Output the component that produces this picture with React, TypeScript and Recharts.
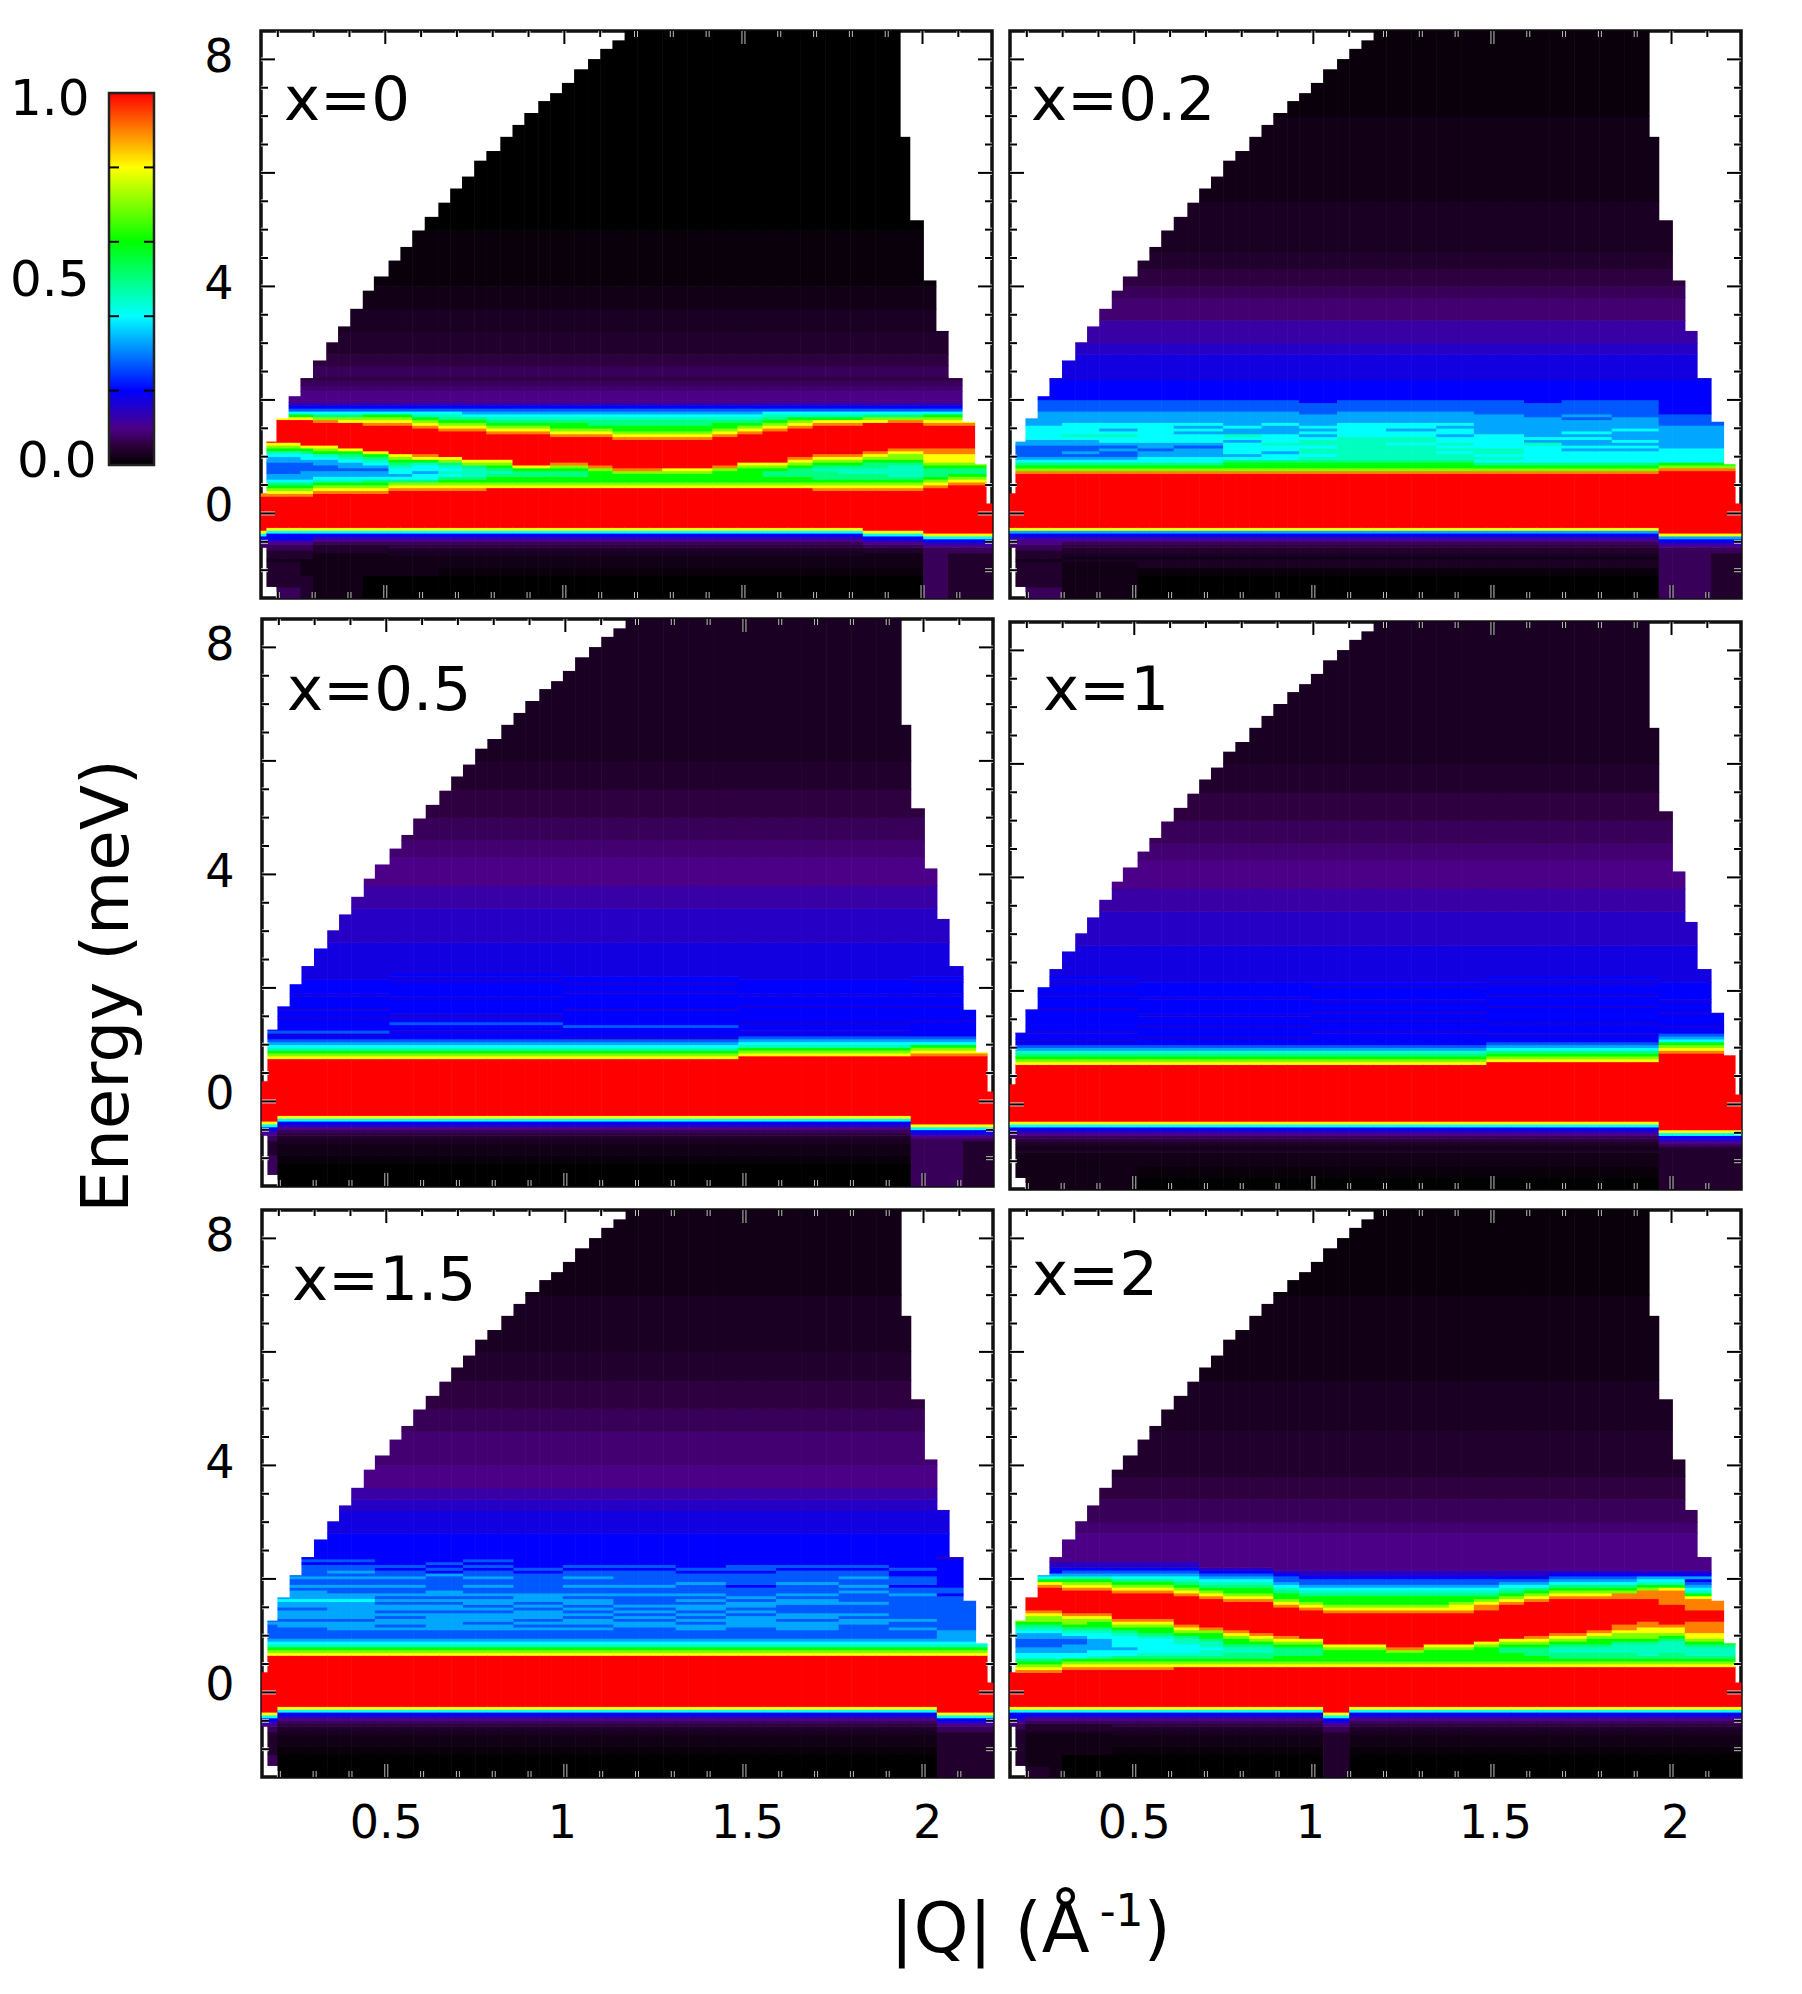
import { ReferenceArea, Scatter, ScatterChart, XAxis, YAxis } from "recharts";

const FONT = "'DejaVu Sans', Verdana, sans-serif";

// Q bin edges, upper and lower limit of the measured range per Q bin
const qEdges = [
  0.153, 0.169, 0.197, 0.231, 0.264, 0.299, 0.336, 0.369, 0.403, 0.438, 0.469, 0.51, 0.543, 0.576, 0.611, 0.649,
  0.682, 0.715, 0.749, 0.783, 0.822, 0.856, 0.889, 0.928, 0.961, 0.994, 1.028, 1.067, 1.101, 1.135, 1.169, 1.204,
  1.239, 1.274, 1.309, 1.344, 1.379, 1.414, 1.449, 1.484, 1.519, 1.554, 1.589, 1.624, 1.659, 1.694, 1.729, 1.764,
  1.799, 1.834, 1.869, 1.904, 1.938, 1.965, 2.003, 2.038, 2.072, 2.111, 2.146, 2.178, 2.194,
];
const topLimit = [
  0.35, 1.26, 1.67, 2.06, 2.38, 2.69, 3.01, 3.29, 3.6, 3.92, 4.17, 4.45, 4.69, 4.98, 5.22, 5.47, 5.72, 5.93, 6.21,
  6.38, 6.63, 6.84, 7.05, 7.26, 7.4, 7.58, 7.82, 8, 8.18, 8.33, 8.5, 8.5, 8.5, 8.5, 8.5, 8.5, 8.5, 8.5, 8.5, 8.5, 8.5,
  8.5, 8.5, 8.5, 8.5, 8.5, 8.5, 8.5, 8.5, 8.5, 8.5, 8.5, 6.63, 5.16, 4.1, 3.21, 2.38, 1.61, 0.86, 0.17,
];
const bottomLimit = [-0.6, -1.29];

// energy bin edges: 5 tail bins, 16 + 40 + 8 fine bins, 15 upper bins
const energyEdges = [
  -1.6, -1.3, -1.1, -0.95, -0.85, -0.8, -0.75, -0.7, -0.65, -0.6, -0.55, -0.5, -0.45, -0.4, -0.35, -0.3, -0.25, -0.2,
  -0.15, -0.1, -0.05, 0, 0.05, 0.1, 0.15, 0.2, 0.25, 0.3, 0.35, 0.4, 0.45, 0.5, 0.55, 0.6, 0.65, 0.7, 0.75, 0.8, 0.85,
  0.9, 0.95, 1, 1.05, 1.1, 1.15, 1.2, 1.25, 1.3, 1.35, 1.4, 1.45, 1.5, 1.55, 1.6, 1.65, 1.7, 1.75, 1.8, 1.85, 1.9, 1.95,
  2, 2.05, 2.1, 2.15, 2.2, 2.25, 2.3, 2.35, 2.4, 2.6, 2.8, 3, 3.2, 3.4, 3.6, 3.8, 4, 4.3, 4.6, 5, 5.5, 6, 7, 8.6,
];

// one character per energy bin, indexes intensityLevels
const levelKeys = "0123456789abcdefghijklm";
const intensityLevels = [
  0, 0.02, 0.04, 0.07, 0.1, 0.15, 0.2, 0.27, 0.33, 0.4, 0.45, 0.5, 0.6, 0.7, 0.8, 0.9, 1, 0.01, 0.03, 0.055, 0.085, 0.125,
  0.175,
];

const colorPositions = [0, 0.05, 0.1, 0.2, 0.4, 0.6, 0.8, 1];
const colorValues = ["#000000", "#2b0038", "#4c0088", "#0000ff", "#00ffff", "#00ff00", "#ffff00", "#ff0000"];

const x0Low = "00h11 1ii2j34569eggggg";
const x0Up = "444kk33j 3j22ii11hhh0000";
const x0Breaks = [
  0.169, 0.25, 0.3, 0.37, 0.44, 0.5, 0.57, 0.65, 0.72, 0.8, 0.87, 0.95, 1.05, 1.15, 1.27, 1.4, 1.47, 1.55, 1.62, 1.7,
  1.77, 1.85, 1.92, 2.0, 2.08, 2.2,
];
const x0Profiles = [
  `63222 222334569egggggg ggggggfedc b988777788 9acdeggggg gggec97654 ${x0Up}`,
  `32221 2223345669eggggg ggggggfedc b988777788 9acdeggggg gggec97654 ${x0Up}`,
  `22111 2223345669eggggg ggggggfedc b988877789 9bcegggggg gggec97654 ${x0Up}`,
  `11111 1122234569eggggg gggggggfed ca98877889 acdegggggg ggfdb97654 ${x0Up}`,
  `11111 1122234569eggggg gggggggfed ca9887889a bceggggggg ggedb97654 ${x0Up}`,
  `00111 1122234569eggggg gggggggfed cb988789ab cegggggggg gfedc97654 ${x0Up}`,
  `00111 1ii2j34569eggggg ggggggggfe db98 99abcd eggggggggg gfedc97654 ${x0Up}`,
  `00111 1ii2j34569eggggg ggggggggfe db99899ace fggggggggg fedca97654 ${x0Up}`,
  `${x0Low} ggggggggfe dcb9a9abde gggggggggf edcba97654 ${x0Up}`,
  `${x0Low} ggggggggfe dcbaaabdeg gggggggggf edcb987654 ${x0Up}`,
  `${x0Low} ggggggggge dccbabcdeg ggggggggfe dcba987654 ${x0Up}`,
  `${x0Low} ggggggggge dccbbceggg ggggggggfe dcba987654 ${x0Up}`,
  `${x0Low} ggggggggge dccbbcdfgg gggggggfed ccba987654 ${x0Up}`,
  `${x0Low} ggggggggge dccccdfggg gggggggfed cbba987654 ${x0Up}`,
  `${x0Low} ggggggggge dcccdfgggg ggggggfedc cbba987654 ${x0Up}`,
  `${x0Low} ggggggggge dcccdegggg ggggggfedc cbba987654 ${x0Up}`,
  `${x0Low} ggggggggge dccccdfggg gggggggfed ccba987654 ${x0Up}`,
  `${x0Low} ggggggggge dcccccdegg ggggggggfe dcba987654 ${x0Up}`,
  `${x0Low} ggggggggge dccbbcdegg gggggggggf edcba97654 ${x0Up}`,
  `${x0Low} ggggggggge dccbbbcdef gggggggggg fedca97654 ${x0Up}`,
  `${x0Low} ggggggggfe dcbbbabcde fggggggggg gfeca97654 ${x0Up}`,
  `${x0Low} ggggggggfe dcbbaabcde fggggggggg gfeca97654 ${x0Up}`,
  `00h11 112234569egggggg ggggggggfe dcbbaabbcd efgggggggg ggedb97654 ${x0Up}`,
  `00h11 112234569egggggg ggggggggfe dcbaaaabcd defggggggg ggfdb97654 ${x0Up}`,
  `33333 33334569eggggggg gggggggggf edcbbbcdee effggggggg gfedc97654 ${x0Up}`,
  `22222 22334569eggggggg gggggggggg fedcbbcdee effggggggg gfedc97654 ${x0Up}`,
];

const x02Up = "6666666m mm5llkk3j2ii11h";
const x02Low = "00hii 1i22j34568eggggg gggggggggg";
const x02Breaks = [0.3, 0.4, 0.5, 0.62, 0.75, 0.85, 0.95, 1.08, 1.2, 1.33, 1.45, 1.58, 1.7, 1.83, 1.98, 2.1, 2.2];
const x02Profiles = [
  `32221 2223344568eggggg gggggggggg ggggfdcb98 7777889999 9888887777 ${x02Up}`,
  `1111i 1i22j34568eggggg gggggggggg ggggfdcb98 7877889a99 9988887777 ${x02Up}`,
  `1111i 1i22j34568eggggg gggggggggg ggggfdcb98 7787899a98 9988887777 ${x02Up}`,
  `${x02Low} ggggfdcb99 8878899999 9988887777 ${x02Up}`,
  `${x02Low} ggggfdcb99 8887899989 8988887777 ${x02Up}`,
  `${x02Low} ggggfdccb9 8999989a88 9888887777 ${x02Up}`,
  `${x02Low} ggggfdccb9 9899a99988 8988887777 ${x02Up}`,
  `${x02Low} ggggfdccba 9aa9aa9898 9888877776 ${x02Up}`,
  `${x02Low} ggggfdccba aaaaaaa999 9988887777 ${x02Up}`,
  `${x02Low} ggggfdccba aaaa9aa998 9988887777 ${x02Up}`,
  `${x02Low} ggggfdccba a9a9a99899 8988887777 ${x02Up}`,
  `${x02Low} ggggfdcb9a 9aa9999988 8888877777 ${x02Up}`,
  `${x02Low} ggggfdcb99 9999a89888 8888777776 ${x02Up}`,
  `${x02Low} ggggfdcb99 9989889898 8887877777 ${x02Up}`,
  `${x02Low} ggggfdcb99 9989898889 8888777777 ${x02Up}`,
  `33333 33334568eggggggg gggggggggg gggggfdc99 9998888888 8777766666 ${x02Up}`,
  `22222 22334568eggggggg gggggggggg gggggfdc99 9998888888 8777766666 ${x02Up}`,
];

const x05Up = "mm555ll44k3j2ii";
const x05Low = "00h11 1ii2j34569eggggg gggggggggg";
const x05Breaks = [0.2, 0.5, 1, 1.5, 1.98, 2.1, 2.2];
const x05Profiles = [
  `43322 2233 4569eggggggg gggggggggg gggggedca9 876m76666m 66m6666m66 666mmmmm ${x05Up}`,
  `${x05Low} gggggedca9 876m76666m 66m6666m66 666mmmmm ${x05Up}`,
  `${x05Low} gggggedca9 8766m6676m m66666m666 66mm6mmm ${x05Up}`,
  `${x05Low} gggggedca9 87m6667666 66m66666m6 6m66mmmm ${x05Up}`,
  `${x05Low} ggggggedca 9876m66m66 666m666m66 666mmmmm ${x05Up}`,
  `33333 3334569egggggggg gggggggggg ggggggfedc 98766666m6 666m666m66 66m6mmmm ${x05Up}`,
  `22222 2234569egggggggg gggggggggg ggggggfedc 98766666m6 666m666m66 66m6mmmm ${x05Up}`,
];

const x1Up = "mm555ll44k3j2ii";
const x1Low = "0h112 1i2j34569egggggg gggggggggg";
const x1Breaks = [0.5, 1, 1.5, 1.98, 2.2];
const x1Profiles = [
  `11112 1i2j34569egggggg gggggggggg ggggedcba8 76m66m6666 666m6666m6 66mm6mmm ${x1Up}`,
  `${x1Low} ggggedcba8 766m666m66 6m66666m66 666mmmmm ${x1Up}`,
  `${x1Low} ggggedcba8 76666m666m 66m666m666 6m6mmmmm ${x1Up}`,
  `${x1Low} gggggedcb9 8766m666m6 6666m666m6 66mm6mmm ${x1Up}`,
  `22222 234569eggggggggg gggggggggg ggggggggfe dc98766m66 66m666m666 666mmmmm ${x1Up}`,
];

const x15Up = "66mm5l44kk3j2i1";
const x15Low = "00h11 1ii2j34569eggggg gggggggggg gggedca987";
const x15Breaks = [0.2, 0.33, 0.46, 0.6, 0.73, 0.86, 1, 1.15, 1.3, 1.45, 1.6, 1.75, 1.9, 2.05, 2.2];
const x15Profiles = [
  `33222 22334569eggggggg gggggggggg gggedca987 7777878888 8989887877 87776766 ${x15Up}`,
  `${x15Low} 7778878887 8898887877 87777676 ${x15Up}`,
  `${x15Low} 7788878888 8898877877 87877676 ${x15Up}`,
  `${x15Low} 7787887878 8787877877 87767666 ${x15Up}`,
  `${x15Low} 7788888878 8787887777 78676766 ${x15Up}`,
  `${x15Low} 7788788878 7887877877 87767676 ${x15Up}`,
  `${x15Low} 7787878887 8788877777 77676666 ${x15Up}`,
  `${x15Low} 7787887878 7887877877 87767666 ${x15Up}`,
  `${x15Low} 7778878787 8777877877 77767666 ${x15Up}`,
  `${x15Low} 7788787878 8787877787 77676666 ${x15Up}`,
  `${x15Low} 7778888787 8878777677 77677666 ${x15Up}`,
  `${x15Low} 7788878877 7887877787 77767666 ${x15Up}`,
  `${x15Low} 7777887877 7877787877 87767666 ${x15Up}`,
  `${x15Low} 7787787777 7777877677 76676666 ${x15Up}`,
  `22222 22334569eggggggg gggggggggg gggedca988 8877777777 7777677666 66666665 ${x15Up}`,
];

const x2Low = "00h11 1ii2j34569eggggg";
const x2Up = "44k33jj222ii11h";
const x2Breaks = [
  0.2, 0.25, 0.3, 0.37, 0.45, 0.52, 0.6, 0.67, 0.75, 0.82, 0.9, 0.97, 1.03, 1.1, 1.2, 1.3, 1.37, 1.45, 1.52, 1.6, 1.67,
  1.75, 1.82, 1.9, 1.97, 2.05, 2.12, 2.2,
];
const x2Profiles = [
  `32222 2223345669eggggg gggggggfed cb99887778 89abcddefg gggggggfec 98665544 ${x2Up}`,
  `21111 1122234569eggggg gggggggfed cb99887778 89abcddefg gggggggfec 98665544 ${x2Up}`,
  `11111 1122234569eggggg gggggggfed cb99887778 89abcddefg gggggggfec 98665544 ${x2Up}`,
  `00111 1122234569eggggg ggggggggfe dc99888778 9abcddefgg ggggggfedc a8765544 ${x2Up}`,
  `00111 1122234569eggggg ggggggggfe dca9988889 9abccdefgg ggggggfedc a8765544 ${x2Up}`,
  `${x2Low} ggggggggfe dcb9989999 abcdefgggg gggggfedcb 98765544 ${x2Up}`,
  `${x2Low} ggggggggfe dcba99999a bccdefgggg gggggfedcb 98765544 ${x2Up}`,
  `${x2Low} ggggggggge dcba999aab cdefgggggg ggggfedcba 98765544 ${x2Up}`,
  `${x2Low} ggggggggge dcbaa9aabc cdfggggggg gggfedcba9 87654444 ${x2Up}`,
  `${x2Low} ggggggggge dcbbaabccd efgggggggg ggfedccba9 87654444 ${x2Up}`,
  `${x2Low} ggggggggge dcbbaabcde fggggggggg ggfedccba9 87654444 ${x2Up}`,
  `${x2Low} ggggggggge dccbbbcdef gggggggggg fedccba987 76544444 ${x2Up}`,
  `${x2Low} ggggggggge dccbbbcdeg gggggggggf edccba9877 65544444 ${x2Up}`,
  `22222 22334569eggggggg ggggggggge dccccdeggg ggggggggfe dcccba9877 65544444 ${x2Up}`,
  `${x2Low} ggggggggge dccccdeggg ggggggggfe dcccba9877 65544444 ${x2Up}`,
  `${x2Low} ggggggggge dcccdfgggg ggggggggfe dcccba9877 65544444 ${x2Up}`,
  `${x2Low} ggggggggge dccccdeggg ggggggggfe dcccba9877 65544444 ${x2Up}`,
  `${x2Low} ggggggggge dccccdeggg ggggggggfe edccba9877 65544444 ${x2Up}`,
  `${x2Low} ggggggggge dcccccdegg gggggggggf fedcba9877 65544444 ${x2Up}`,
  `${x2Low} ggggggggge dcccbbcdeg gggggggggg gfedcba987 65544444 ${x2Up}`,
  `${x2Low} ggggggggge dccbbbcdef gggggggggg ggfedcb987 65544444 ${x2Up}`,
  `${x2Low} ggggggggge dcbbaabcde fggggggggg gggfedcb98 76544444 ${x2Up}`,
  `${x2Low} ggggggggge dcbbaabccd efgggggggg gggfedcb98 76544444 ${x2Up}`,
  `${x2Low} ggggggggge dcbbaaabcd deffgggggg gggffdcb98 76544444 ${x2Up}`,
  `${x2Low} ggggggggge dcbaaaabcd deeffggggg gggfffdca9 86544444 ${x2Up}`,
  `${x2Low} ggggggggge dcbbaaaabc deefgggggg gfffffeca9 86544444 ${x2Up}`,
  `${x2Low} ggggggggge dcbaaabcde effffggggf fffeca9876 86544444 ${x2Up}`,
  `${x2Low} ggggggggge dcbaaabcde effffggggf fffeca9876 86544444 ${x2Up}`,
];

const qTicks = [0.2, 0.3, 0.4, 0.5, 0.6, 0.7, 0.8, 0.9, 1, 1.1, 1.2, 1.3, 1.4, 1.5, 1.6, 1.7, 1.8, 1.9, 2, 2.1];
const qMajor = [0.5, 1, 1.5, 2];
const qLabelShift = [0, -3, 3, 4];
const eTicks = [-1, -0.5, 0, 0.5, 1, 1.5, 2, 2.5, 3, 3.5, 4, 4.5, 5, 5.5, 6, 6.5, 7, 7.5, 8];
const eMajor = [0, 4, 8];
const eLabelShift = [-8, -3, -3];
const eLong = [0, 2, 4, 6, 8];

const Q_DOMAIN = [0.153, 2.194];
const E_DOMAIN = [-1.49, 8.5];
const PLOT_W = 731;
const PLOT_H = 567;
const PX_Q = PLOT_W / (Q_DOMAIN[1] - Q_DOMAIN[0]);
const PX_E = PLOT_H / (E_DOMAIN[1] - E_DOMAIN[0]);
const M_LEFT = 80;
const M_TOP = 6;
const M_BOTTOM = 80;

const panels = [
  { name: "x=0", left: 261, top: 31, breaks: x0Breaks, profiles: x0Profiles, lx: 284, ly: 98, qLabels: false, eLabels: true },
  { name: "x=0.2", left: 1010, top: 31, breaks: x02Breaks, profiles: x02Profiles, lx: 1031, ly: 98, qLabels: false, eLabels: false },
  { name: "x=0.5", left: 262, top: 619, breaks: x05Breaks, profiles: x05Profiles, lx: 287, ly: 688, qLabels: false, eLabels: true },
  { name: "x=1", left: 1010, top: 622, breaks: x1Breaks, profiles: x1Profiles, lx: 1043, ly: 688, qLabels: false, eLabels: false },
  { name: "x=1.5", left: 262, top: 1210, breaks: x15Breaks, profiles: x15Profiles, lx: 292, ly: 1278, qLabels: true, eLabels: true },
  { name: "x=2", left: 1010, top: 1210, breaks: x2Breaks, profiles: x2Profiles, lx: 1032, ly: 1273, qLabels: true, eLabels: false },
];

function colorOf(v: number) {
  let i = 0;
  while (i < colorPositions.length - 2 && v > colorPositions[i + 1]) i++;
  const t = (v - colorPositions[i]) / (colorPositions[i + 1] - colorPositions[i]);
  const a = colorValues[i];
  const b = colorValues[i + 1];
  const mix = (p: number) => {
    const ca = parseInt(a.slice(p, p + 2), 16);
    const cb = parseInt(b.slice(p, p + 2), 16);
    return Math.round(ca + (cb - ca) * t);
  };
  return `rgb(${mix(1)},${mix(3)},${mix(5)})`;
}

function buildCells(breaks: number[], profiles: string[]) {
  const cells: { q: number; e: number; dQ: number; dE: number; value: number }[] = [];
  for (let c = 0; c < qEdges.length - 1; c++) {
    const q = (qEdges[c] + qEdges[c + 1]) / 2;
    const idx = breaks.findIndex((b) => q <= b);
    const rows = profiles[idx < 0 ? profiles.length - 1 : idx].replace(/ /g, "");
    const top = topLimit[c];
    const bottom = Math.max(bottomLimit[c] ?? E_DOMAIN[0], E_DOMAIN[0]);
    let start: number | null = null;
    let key = "";
    const flush = (end: number) => {
      if (start !== null && end > start) {
        cells.push({
          q,
          e: (start + end) / 2,
          dQ: qEdges[c + 1] - qEdges[c],
          dE: end - start,
          value: intensityLevels[levelKeys.indexOf(key)],
        });
      }
    };
    for (let r = 0; r < energyEdges.length - 1; r++) {
      const lo = Math.max(energyEdges[r], bottom);
      const hi = Math.min(energyEdges[r + 1], top);
      if (hi <= lo) continue;
      const k = rows[r] ?? "0";
      if (k !== key) {
        flush(lo);
        start = lo;
        key = k;
      }
      if (hi >= top) {
        flush(hi);
        start = null;
        key = "";
      }
    }
  }
  return cells;
}

function HeatCell(props: any) {
  const { cx, cy, payload } = props;
  const w = payload.dQ * PX_Q + 0.6;
  const h = payload.dE * PX_E + 0.6;
  return <rect x={cx - w / 2} y={cy - h / 2} width={w} height={h} fill={colorOf(payload.value)} />;
}

function TickMark({ x1, y1, x2, y2 }: { x1: number; y1: number; x2: number; y2: number }) {
  return (
    <>
      <line x1={x1} y1={y1} x2={x2} y2={y2} stroke="#fff" strokeWidth={4} opacity={0.75} />
      <line x1={x1} y1={y1} x2={x2} y2={y2} stroke="#000" strokeWidth={2} />
    </>
  );
}

function QTick(props: any, showLabel: boolean, plotTop: number, plotBottom: number) {
  const { x, payload } = props;
  const m = qMajor.indexOf(payload.value);
  const major = m >= 0;
  const len = major ? 13 : 6;
  return (
    <g>
      <TickMark x1={x} y1={plotBottom} x2={x} y2={plotBottom - len} />
      <TickMark x1={x} y1={plotTop} x2={x} y2={plotTop + len} />
      {showLabel && major && (
        <text x={x + qLabelShift[m]} y={plotBottom + 45} textAnchor="middle" dominantBaseline="central" fontSize={46} fontFamily={FONT} fill="#000">
          {payload.value}
        </text>
      )}
    </g>
  );
}

function ETick(props: any, showLabel: boolean, plotLeft: number, plotRight: number) {
  const { y, payload } = props;
  const long = eLong.includes(payload.value);
  const len = long ? 14 : 7;
  const m = eMajor.indexOf(payload.value);
  return (
    <g>
      <TickMark x1={plotLeft} y1={y} x2={plotLeft + len} y2={y} />
      <TickMark x1={plotRight} y1={y} x2={plotRight - len} y2={y} />
      {showLabel && m >= 0 && (
        <text x={plotLeft - 42} y={y + eLabelShift[m]} textAnchor="middle" dominantBaseline="central" fontSize={46} fontFamily={FONT} fill="#000">
          {payload.value}
        </text>
      )}
    </g>
  );
}

function Panel({ panel }: { panel: (typeof panels)[number] }) {
  const cells = buildCells(panel.breaks, panel.profiles);
  const plotTop = M_TOP;
  const plotBottom = M_TOP + PLOT_H;
  const plotLeft = M_LEFT;
  const plotRight = M_LEFT + PLOT_W;
  return (
    <div style={{ position: "absolute", left: panel.left - M_LEFT, top: panel.top - M_TOP }}>
      <ScatterChart
        width={M_LEFT + PLOT_W + 8}
        height={M_TOP + PLOT_H + M_BOTTOM}
        margin={{ left: M_LEFT - 1, right: 8, top: M_TOP, bottom: M_BOTTOM - 1 }}
      >
        <Scatter data={cells} dataKey="e" shape={HeatCell} isAnimationActive={false} />
        <XAxis
          type="number"
          dataKey="q"
          domain={Q_DOMAIN}
          ticks={qTicks}
          interval={0}
          height={1}
          axisLine={false}
          tickLine={false}
          tickSize={0}
          tick={(p: any) => QTick(p, panel.qLabels, plotTop, plotBottom)}
        />
        <YAxis
          type="number"
          dataKey="e"
          domain={E_DOMAIN}
          ticks={eTicks}
          interval={0}
          width={1}
          axisLine={false}
          tickLine={false}
          tickSize={0}
          tick={(p: any) => ETick(p, panel.eLabels, plotLeft, plotRight)}
        />
        <ReferenceArea x1={Q_DOMAIN[0]} x2={Q_DOMAIN[1]} y1={E_DOMAIN[0]} y2={E_DOMAIN[1]} fill="none" stroke="#111" strokeWidth={3.5} />
      </ScatterChart>
    </div>
  );
}

const barTicks = [0.2, 0.4, 0.6, 0.8];
const barPoints = [
  { a: 0, b: 0 },
  { a: 1, b: 1 },
];

function ColorBar() {
  return (
    <div style={{ position: "absolute", left: 99, top: 85 }}>
      <ScatterChart width={65} height={388} margin={{ left: 9, right: 10, top: 8, bottom: 8 }}>
        <defs>
          <linearGradient id="rainbow" x1="0" y1="1" x2="0" y2="0">
            {colorPositions.map((p, i) => (
              <stop key={p} offset={p} stopColor={colorValues[i]} />
            ))}
          </linearGradient>
        </defs>
        <ReferenceArea x1={0} x2={1} y1={0} y2={1} fill="url(#rainbow)" fillOpacity={1} stroke="#222" strokeWidth={2.5} />
        <Scatter data={barPoints} dataKey="b" shape={() => <g />} isAnimationActive={false} />
        <XAxis type="number" dataKey="a" domain={[0, 1]} hide />
        <YAxis
          type="number"
          dataKey="b"
          domain={[0, 1]}
          ticks={barTicks}
          interval={0}
          width={1}
          axisLine={false}
          tickLine={false}
          tickSize={0}
          tick={(p: any) => (
            <g>
              <line x1={10} x2={20} y1={p.y} y2={p.y} stroke="#000" strokeWidth={2} />
              <line x1={45} x2={55} y1={p.y} y2={p.y} stroke="#000" strokeWidth={2} />
            </g>
          )}
        />
      </ScatterChart>
    </div>
  );
}

const textStyle = { position: "absolute", fontFamily: FONT, color: "#000", whiteSpace: "nowrap", lineHeight: 1 } as const;

export default function App() {
  return (
    <div style={{ position: "absolute", left: 0, top: 0, width: 1802, height: 1994, background: "#fff", overflow: "hidden" }}>
      {panels.map((p) => (
        <Panel key={p.name} panel={p} />
      ))}
      {panels.map((p) => (
        <div key={p.name} style={{ ...textStyle, left: p.lx, top: p.ly, fontSize: 61, transform: "translateY(-50%)" }}>
          {p.name}
        </div>
      ))}
      <ColorBar />
      <div style={{ ...textStyle, left: 10, top: 98, fontSize: 50, transform: "translateY(-50%)" }}>1.0</div>
      <div style={{ ...textStyle, left: 10, top: 279, fontSize: 50, transform: "translateY(-50%)" }}>0.5</div>
      <div style={{ ...textStyle, left: 17, top: 460, fontSize: 50, transform: "translateY(-50%)" }}>0.0</div>
      <div style={{ ...textStyle, left: 106, top: 986, fontSize: 66, transform: "translate(-50%,-50%) rotate(-90deg)" }}>Energy (meV)</div>
      <div style={{ ...textStyle, left: 890, top: 1893, fontSize: 70 }}>
        |Q| (Å<span style={{ fontSize: 44, position: "relative", top: -26, marginLeft: 10 }}>-1</span>)
      </div>
    </div>
  );
}
